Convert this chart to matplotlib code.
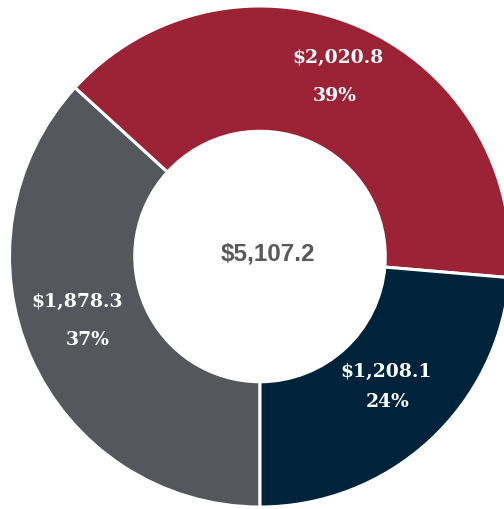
import matplotlib
matplotlib.use("Agg")
import matplotlib.pyplot as plt

# Data
categories = ["Gray", "Red", "Navy"]
values = [1878.3, 2020.8, 1208.1]
value_labels = ["$1,878.3", "$2,020.8", "$1,208.1"]
pct_labels = ["37%", "39%", "24%"]
total_label = "$5,107.2"
colors = ["#54575c", "#9b2335", "#00233c"]

W, H = 504, 509
fig = plt.figure(figsize=(W / 100, H / 100), dpi=100)
cx, cy, R = 260, 256.5, 250.5
ax = fig.add_axes([(cx - R) / W, (H - cy - R) / H, 2 * R / W, 2 * R / H])

ax.pie(values, colors=colors, startangle=270, counterclock=False, radius=1.0,
       wedgeprops=dict(width=0.5, edgecolor="white", linewidth=2.2))
ax.set_xlim(-1, 1)
ax.set_ylim(-1, 1)
ax.set_aspect("equal")
ax.set_axis_off()

def px(x, y):
    return (x - cx) / R, (cy - y) / R

# label positions (pixel layout)
pos_val = [(77, 302), (338, 58), (386, 372)]
pos_pct = [(88, 340), (335, 96), (388, 402)]
font = dict(family="DejaVu Serif", weight="bold", size=13.5, color="white",
            ha="center", va="center")
for vl, pl, pv, pp in zip(value_labels, pct_labels, pos_val, pos_pct):
    ax.text(*px(*pv), vl, **font)
    ax.text(*px(*pp), pl, **font)

ax.text(*px(268, 254), total_label, family="Liberation Sans", weight="bold",
        size=17.5, color="#595959", ha="center", va="center")

fig.savefig("out.png", dpi=100)
